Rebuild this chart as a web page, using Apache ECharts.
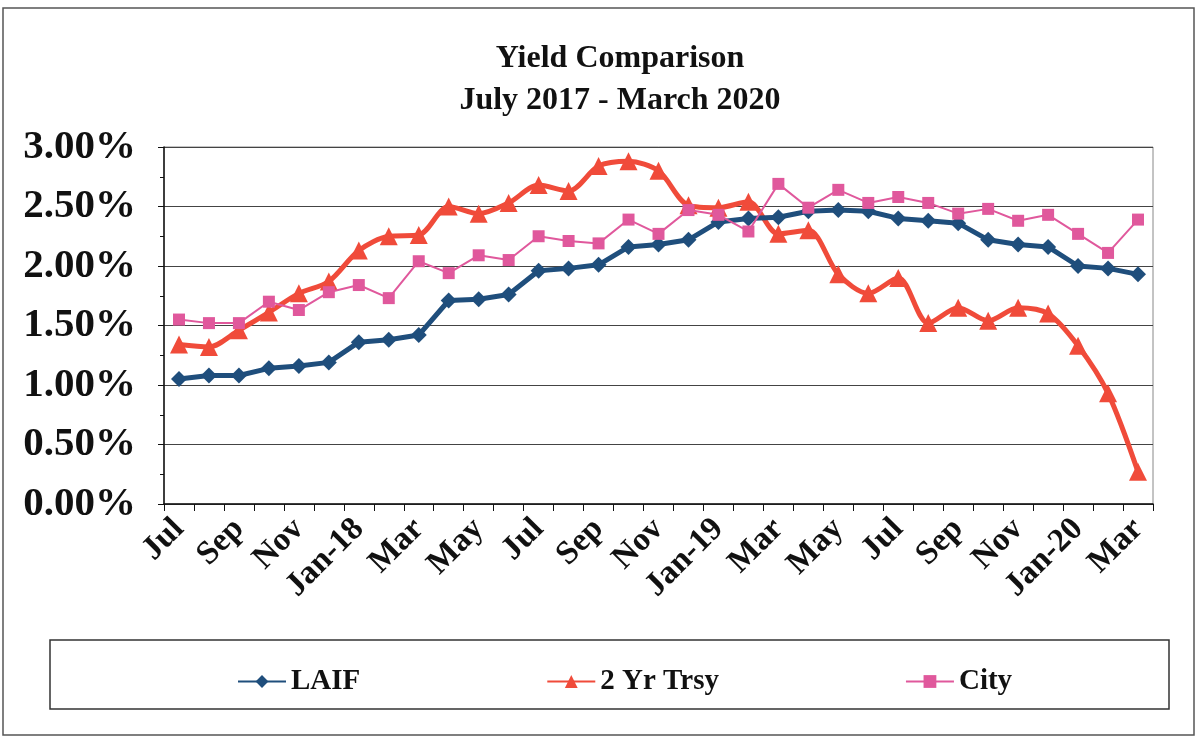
<!DOCTYPE html>
<html><head><meta charset="utf-8">
<script src="https://cdn.jsdelivr.net/npm/echarts@6/dist/echarts.min.js"></script>
<style>html,body{margin:0;padding:0;background:#fff}#c{width:1198px;height:740px}</style>
</head><body><div id="c"></div>
<script>
const months = ['Jul','Aug','Sep','Oct','Nov','Dec','Jan-18','Feb','Mar','Apr','May','Jun',
  'Jul','Aug','Sep','Oct','Nov','Dec','Jan-19','Feb','Mar','Apr','May','Jun',
  'Jul','Aug','Sep','Oct','Nov','Dec','Jan-20','Feb','Mar'];
const laif = [1.05,1.08,1.08,1.14,1.16,1.19,1.36,1.38,1.42,1.71,1.72,1.76,
  1.96,1.98,2.01,2.16,2.18,2.22,2.37,2.40,2.41,2.46,2.47,2.46,
  2.40,2.38,2.36,2.22,2.18,2.16,2.00,1.98,1.93];
const trsy = [1.34,1.32,1.46,1.61,1.77,1.87,2.13,2.25,2.26,2.50,2.44,2.53,
  2.68,2.63,2.84,2.88,2.80,2.51,2.49,2.54,2.27,2.30,1.93,1.77,
  1.90,1.52,1.65,1.54,1.65,1.60,1.33,0.93,0.27];
const city = [1.55,1.52,1.52,1.70,1.63,1.78,1.84,1.73,2.04,1.94,2.09,2.05,
  2.25,2.21,2.19,2.39,2.27,2.47,2.43,2.29,2.69,2.49,2.64,2.53,
  2.58,2.53,2.44,2.48,2.38,2.43,2.27,2.11,2.39];
const yTicks = {min:0, max:3, interval:0.5};

const serif = '"Liberation Serif","Times New Roman",serif';
const chart = echarts.init(document.getElementById('c'));
chart.setOption({
  animation:false,
  backgroundColor:'#fff',
  title:{
    text:'Yield Comparison\nJuly 2017 - March 2020',
    left:615, top:33, textAlign:'center',
    textStyle:{fontFamily:serif, fontWeight:'bold', fontSize:32, lineHeight:42, color:'#111'}
  },
  graphic:[
    {type:'rect', shape:{x:3,y:8,width:1191,height:727}, style:{fill:null, stroke:'#555', lineWidth:1.5}, silent:true, z:-1},
    {type:'rect', shape:{x:50,y:640,width:1119,height:69}, style:{fill:null, stroke:'#333', lineWidth:1.5}, silent:true}
  ],
  legend:{
    left:232, top:662, itemGap:186, itemWidth:48, itemHeight:16,
    textStyle:{fontFamily:serif, fontWeight:'bold', fontSize:29, color:'#111'},
    data:['LAIF','2 Yr Trsy','City']
  },
  grid:{left:164, right:45, top:147, bottom:236, show:true, borderColor:'#888', borderWidth:1, backgroundColor:'#fff'},
  xAxis:{
    type:'category', data:months, boundaryGap:true,
    axisLine:{lineStyle:{color:'#111', width:1.5}},
    axisTick:{show:true, interval:0, length:7, lineStyle:{color:'#111'}},
    axisLabel:{interval:1, rotate:45, margin:20, fontFamily:serif, fontWeight:'bold', fontSize:33, color:'#111'}
  },
  yAxis:{
    type:'value', min:yTicks.min, max:yTicks.max, interval:yTicks.interval,
    axisLine:{show:true, lineStyle:{color:'#111', width:1.5}},
    axisTick:{show:true, length:6, lineStyle:{color:'#111'}},
    minorTick:{show:true, splitNumber:2, length:4, lineStyle:{color:'#111'}},
    splitLine:{show:true, lineStyle:{color:'#444', width:1.2}},
    axisLabel:{margin:28, fontFamily:serif, fontWeight:'bold', fontSize:41, color:'#111',
      formatter:v=>v.toFixed(2)+'%'}
  },
  series:[
    {name:'LAIF', type:'line', data:laif, symbol:'diamond', symbolSize:16,
      lineStyle:{color:'#1f4e7c', width:5}, itemStyle:{color:'#1f4e7c'}, z:3},
    {name:'2 Yr Trsy', type:'line', data:trsy, smooth:0.3, symbol:'triangle', symbolSize:18,
      lineStyle:{color:'#f04b3a', width:5}, itemStyle:{color:'#f04b3a'}, z:2},
    {name:'City', type:'line', data:city, symbol:'rect', symbolSize:12,
      lineStyle:{color:'#e0589c', width:2}, itemStyle:{color:'#e0589c'}, z:4}
  ]
});
</script></body></html>
